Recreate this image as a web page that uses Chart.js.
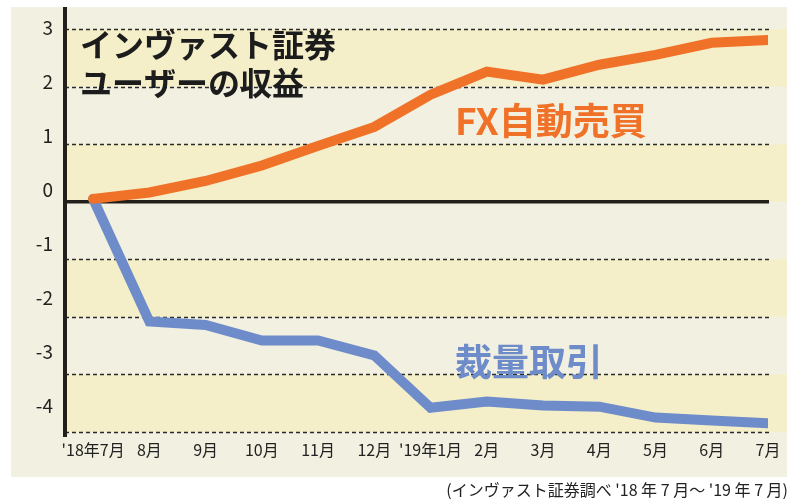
<!DOCTYPE html>
<html lang="ja">
<head>
<meta charset="utf-8">
<script src="https://cdn.jsdelivr.net/npm/chart.js@4"></script>
<style>
  html, body { margin:0; padding:0; background:#fff; }
  canvas { display:block; }
</style>
</head>
<body>
<canvas id="grafico" width="800" height="504"></canvas>
<script>
// datos
const months = ["'18年7月", "8月", "9月", "10月", "11月", "12月", "'19年1月", "2月", "3月", "4月", "5月", "6月", "7月"];
const fxAuto = [0.05, 0.16, 0.36, 0.63, 0.97, 1.30, 1.86, 2.26, 2.12, 2.38, 2.55, 2.76, 2.81];
const discretionary = [0.05, -2.08, -2.14, -2.41, -2.41, -2.67, -3.58, -3.47, -3.54, -3.56, -3.75, -3.80, -3.85];
const yTicks = [3, 2, 1, 0, -1, -2, -3, -4];
const xTicks = months.map((m, i) => i);

const FONT = "'Liberation Sans Narrow', 'Noto Sans CJK JP', sans-serif";
const JP = "'Noto Sans CJK JP', sans-serif";

const fondo = {
    id: "fondo",
    beforeDraw(chart){
        const ctx = chart.ctx;
        const area = chart.chartArea;
        const y = chart.scales.y;

        ctx.save();
        ctx.fillStyle = "#ffffff";
        ctx.fillRect(0, 0, chart.width, chart.height);
        ctx.fillStyle = "#f2f0e0";
        ctx.fillRect(11, 7, 776, 470);

        // bandas amarillas
        ctx.fillStyle = "#f5efc9";
        for (let v = 3; v > -4; v -= 2) {
            const top = y.getPixelForValue(v);
            const bottom = y.getPixelForValue(v - 1);
            ctx.fillRect(area.left, top, 787 - area.left, bottom - top);
        }

        // lineas punteadas
        ctx.strokeStyle = "#2a2a2a";
        ctx.lineWidth = 1.5;
        ctx.setLineDash([4, 3]);
        yTicks.forEach(v => {
            if (v === 0) return;
            const py = Math.round(y.getPixelForValue(v)) + 0.5;
            ctx.beginPath();
            ctx.moveTo(area.left, py);
            ctx.lineTo(area.right + 1, py);
            ctx.stroke();
        });
        ctx.setLineDash([]);

        // linea de cero
        ctx.strokeStyle = "#231f1a";
        ctx.lineWidth = 3.5;
        const y0 = y.getPixelForValue(0);
        ctx.beginPath();
        ctx.moveTo(area.left, y0);
        ctx.lineTo(area.right + 1, y0);
        ctx.stroke();

        // eje vertical
        ctx.lineWidth = 4;
        ctx.beginPath();
        ctx.moveTo(area.left, 7);
        ctx.lineTo(area.left, area.bottom + 5);
        ctx.stroke();
        ctx.restore();
    },
    afterDraw(chart){
        const ctx = chart.ctx;
        ctx.save();
        ctx.textBaseline = "middle";
        ctx.textAlign = "left";

        ctx.fillStyle = "#1c1c1c";
        ctx.font = "bold 32px " + JP;
        ctx.fillText("インヴァスト証券", 80, 45);
        ctx.fillText("ユーザーの収益", 80, 83);

        ctx.fillStyle = "#f07128";
        ctx.font = "bold 37px " + JP;
        ctx.fillText("FX自動売買", 455, 121);

        ctx.fillStyle = "#6d8cc9";
        ctx.fillText("裁量取引", 455, 362);

        ctx.fillStyle = "#222222";
        ctx.font = "16px " + FONT;
        ctx.textAlign = "right";
        ctx.fillText("(インヴァスト証券調べ '18 年 7 月～ '19 年 7 月)", 788, 490);
        ctx.restore();
    }
};

new Chart(
    document.getElementById("grafico"),
    {
        type: "line",
        data: {
            datasets: [
                {
                    label: "FX自動売買",
                    data: fxAuto.map((v, i) => ({x: i, y: v})),
                    borderColor: "#f07128",
                    borderWidth: 10,
                    borderCapStyle: "round",
                    pointRadius: 0,
                    tension: 0,
                    yAxisID: "y"
                },
                {
                    label: "裁量取引",
                    data: discretionary.map((v, i) => ({x: i, y: v})),
                    borderColor: "#6d8cc9",
                    borderWidth: 10,
                    borderCapStyle: "round",
                    pointRadius: 0,
                    tension: 0,
                    yAxisID: "y"
                }
            ]
        },
        options: {
            responsive: false,
            animation: false,
            devicePixelRatio: 1,
            layout: { padding: { top: 6, right: 32, bottom: 42, left: 0 } },
            plugins: {
                legend: { display: false },
                tooltip: { enabled: false }
            },
            scales: {
                x: {
                    type: "linear",
                    position: "bottom",
                    min: -0.5,
                    max: 12,
                    grid: { display: false, drawTicks: false },
                    border: { display: false },
                    afterFit: s => {
                        s.height = 30;
                        s.paddingLeft = 0;
                        s.paddingRight = 0;
                    },
                    afterBuildTicks: s => { s.ticks = xTicks.map(v => ({value: v})); },
                    ticks: {
                        autoSkip: false,
                        maxRotation: 0,
                        padding: 8,
                        color: "#222222",
                        font: { family: FONT, size: 16 },
                        callback: v => months[v]
                    }
                },
                y: {
                    type: "linear",
                    display: false,
                    min: -4,
                    max: 3.4
                },
                yl: {
                    type: "linear",
                    position: "left",
                    min: -4.48,
                    max: 3.41,
                    grid: { display: false, drawTicks: false },
                    border: { display: false },
                    afterFit: s => {
                        s.width = 65;
                        s.paddingTop = 0;
                        s.paddingBottom = 0;
                    },
                    afterBuildTicks: s => { s.ticks = yTicks.map(v => ({value: v})); },
                    ticks: {
                        padding: 12,
                        color: "#222222",
                        font: { family: FONT, size: 19 },
                        callback: v => String(v)
                    }
                }
            }
        },
        plugins: [fondo]
    }
);
</script>
</body>
</html>
